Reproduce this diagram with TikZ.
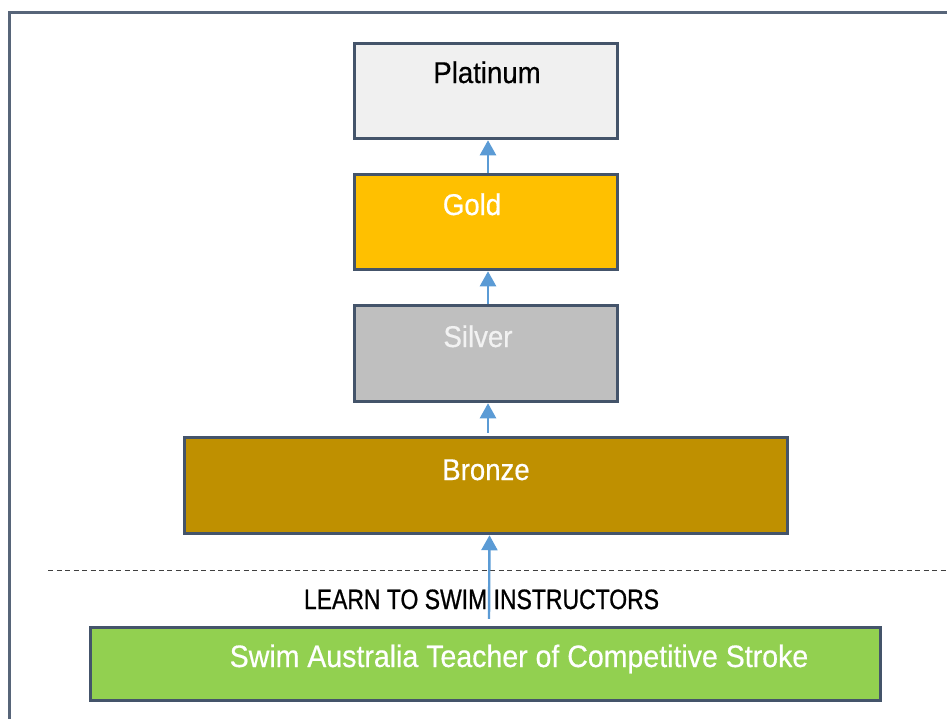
\documentclass[tikz,border=0pt]{standalone}
\usepackage{fontspec}
\usetikzlibrary{arrows.meta,calc}
\newfontfamily\lvlfont[FakeStretch=0.92,FakeBold=0.5]{Liberation Sans}
\newfontfamily\capfont[FakeStretch=0.82,FakeBold=0.8]{Liberation Sans}
\definecolor{edge}{HTML}{44546A}
\definecolor{platfill}{HTML}{F0F0F0}
\definecolor{goldfill}{HTML}{FFC000}
\definecolor{silverfill}{HTML}{BFBFBF}
\definecolor{bronzefill}{HTML}{BF9000}
\definecolor{greenfill}{HTML}{92D050}
\definecolor{flow}{HTML}{5B9BD5}
\tikzset{
  levelbox/.style={draw=edge, line width=3pt, inner sep=0pt, minimum width=263.5pt, minimum height=95.5pt},
  leveltext/.style={anchor=base, inner sep=0pt, font=\lvlfont\fontsize{30}{36}\selectfont},
  uparrow/.style={draw=flow, line width=2.4pt, -{Triangle[width=16pt,length=15pt]}},
}
\begin{document}
\begin{tikzpicture}[x=1pt,y=-1pt]
  \useasboundingbox (0,0) rectangle (947,718);
  \clip (0,0) rectangle (947,718);
  % outer frame
  \draw[edge!90!white, line width=3pt] (9.5,12) rectangle (970,740);
  % dashed separator
  \draw[black!75, line width=1pt, dash pattern=on 5pt off 3.5pt] (48,570) -- (960,570);

  % levels
  \node[levelbox, fill=platfill] (platinum) at (486,91) {};
  \node[levelbox, fill=goldfill] (gold) at (486,222) {};
  \node[levelbox, fill=silverfill, minimum height=96.5pt] (silver) at (486,353.5) {};
  \node[levelbox, fill=bronzefill, minimum width=603.5pt, minimum height=96.5pt] (bronze) at (486,485.5) {};
  \node[levelbox, fill=greenfill, minimum width=790.5pt, minimum height=73.5pt] (teacher) at (485.5,664) {};

  % labels
  \node[leveltext, text=black] (platinumtext) at (487,83) {Platinum};
  \node[leveltext, text=white] (goldtext) at (472,215) {Gold};
  \node[leveltext, text=black!5] (silvertext) at (478,347) {Silver};
  \node[leveltext, text=white] (bronzetext) at (486,480) {Bronze};
  \node[leveltext, text=white, font=\lvlfont\fontsize{31}{36}\selectfont] (teachertext) at (519,667) {Swim Australia Teacher of Competitive Stroke};
  \node[anchor=base, inner sep=0pt, font=\capfont\fontsize{28}{34}\selectfont] (ltsi) at (481.5,609) {LEARN TO SWIM INSTRUCTORS};

  % progression arrows
  \draw[uparrow] ([xshift=3.5pt,yshift=7pt]teacher.north) -- ([xshift=3.5pt]bronze.south);
  \draw[uparrow] ([xshift=2pt,yshift=3pt]bronze.north) -- ([xshift=2pt]silver.south);
  \draw[uparrow] ([xshift=2pt]silver.north) -- ([xshift=2pt]gold.south);
  \draw[uparrow] ([xshift=2pt]gold.north) -- ([xshift=2pt]platinum.south);
\end{tikzpicture}
\end{document}
